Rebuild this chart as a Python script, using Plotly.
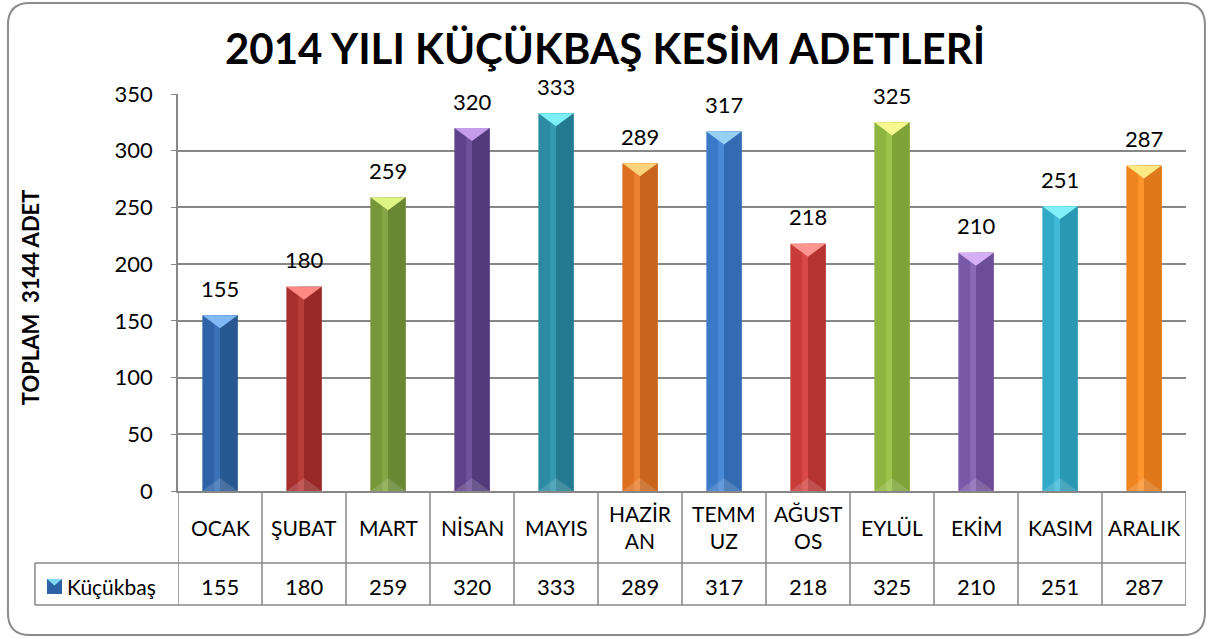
import plotly.graph_objects as go

# ---- data ----
months = ["OCAK", "ŞUBAT", "MART", "NİSAN", "MAYIS", "HAZİRAN",
          "TEMMUZ", "AĞUSTOS", "EYLÜL", "EKİM", "KASIM", "ARALIK"]
header_labels = ["OCAK", "ŞUBAT", "MART", "NİSAN", "MAYIS", "HAZİR<br>AN",
                 "TEMM<br>UZ", "AĞUST<br>OS", "EYLÜL", "EKİM", "KASIM", "ARALIK"]
values = [155, 180, 259, 320, 333, 289, 317, 218, 325, 210, 251, 287]
series_name = "Küçükbaş"
title_text = "2014 YILI KÜÇÜKBAŞ KESİM ADETLERİ"
yaxis_title = "TOPLAM  3144 ADET"
y_ticks = [0, 50, 100, 150, 200, 250, 300, 350]

# ---- styles ----
bar_colors = ["#2E62A6", "#A8302F", "#76963A", "#5E4289", "#2A8BA3", "#DC7020",
              "#3A78C8", "#C93B39", "#8DB43E", "#7A58A8", "#31AAC8", "#F0851F"]
dark_colors = ["#285892", "#982927", "#6A8833", "#533A7A", "#247B91", "#C8641B",
               "#336BB2", "#B53331", "#7FA337", "#6C4D96", "#2A98B3", "#DE781A"]
light_colors = ["#3A72B8", "#B83C3A", "#86A645", "#6E519A", "#3599B0", "#EA8030",
                "#4A88D8", "#D84A48", "#9CC44A", "#8A68B8", "#40BAD6", "#FF942C"]
cap_colors = ["#80B9F5", "#FF8A85", "#DDF584", "#C49CE9", "#7CEEF8", "#FFD37C",
              "#95D2F6", "#FF9590", "#F8F890", "#D7AFF6", "#82F0F8", "#FFE982"]

FONT = "Lato"
BAR_W = 0.42
CAP = 11.5
GRID = "#878787"

x = list(range(len(months)))
fig = go.Figure()

# base bar
fig.add_trace(go.Bar(x=x, y=values, width=BAR_W, offset=-BAR_W / 2,
                     marker=dict(color=bar_colors, line=dict(width=0)),
                     name=series_name, showlegend=False, hoverinfo="skip"))
# right half, darker
fig.add_trace(go.Bar(x=x, y=values, width=BAR_W / 2, offset=0,
                     marker=dict(color=dark_colors, line=dict(width=0)),
                     showlegend=False, hoverinfo="skip"))
# light strip left of centre
fig.add_trace(go.Bar(x=x, y=values, width=0.07, offset=-0.07,
                     marker=dict(color=light_colors, line=dict(width=0)),
                     showlegend=False, hoverinfo="skip"))

# caps (top triangles) and faint base triangles
for i, v in enumerate(values):
    fig.add_trace(go.Scatter(
        x=[i - BAR_W / 2, i + BAR_W / 2, i, i - BAR_W / 2],
        y=[v, v, v - CAP, v], mode="lines", fill="toself",
        fillcolor=cap_colors[i], line=dict(width=0),
        showlegend=False, hoverinfo="skip"))
    fig.add_trace(go.Scatter(
        x=[i - BAR_W / 2, i + BAR_W / 2, i, i - BAR_W / 2],
        y=[0, 0, CAP, 0], mode="lines", fill="toself",
        fillcolor="rgba(255,255,255,0.15)", line=dict(width=0),
        showlegend=False, hoverinfo="skip"))

annotations = []
# data labels
for i, v in enumerate(values):
    annotations.append(dict(x=i, y=v, xref="x", yref="y", text=str(v),
                            showarrow=False, yshift=27,
                            font=dict(family=FONT, size=22, color="black")))
# table header labels
for i, lab in enumerate(header_labels):
    annotations.append(dict(x=i, y=-0.0907, xref="x", yref="paper", text=lab,
                            showarrow=False, yanchor="middle",
                            font=dict(family=FONT, size=21, color="black")))
# table values
for i, v in enumerate(values):
    annotations.append(dict(x=i, y=-0.2393, xref="x", yref="paper", text=str(v),
                            showarrow=False, yanchor="middle",
                            font=dict(family=FONT, size=22, color="black")))
# series name in table
annotations.append(dict(x=-0.1121, y=-0.2393, xref="paper", yref="paper",
                        text=series_name, showarrow=False, xanchor="left",
                        yanchor="middle",
                        font=dict(family=FONT, size=21, color="black")))
# title
annotations.append(dict(x=0.4236, y=1.1158, xref="paper", yref="paper",
                        text="<b>" + title_text + "</b>", showarrow=False,
                        xanchor="center", yanchor="middle",
                        font=dict(family=FONT, size=42, color="black")))
# y axis title
annotations.append(dict(x=-0.1468, y=0.488, xref="paper", yref="paper",
                        text="<b>" + yaxis_title + "</b>", showarrow=False,
                        textangle=-90, xanchor="center", yanchor="middle",
                        font=dict(family=FONT, size=22, color="black")))

shapes = []
line_style = dict(color=GRID, width=1.5)
# table vertical lines
for k in range(len(months) + 1):
    shapes.append(dict(type="line", xref="x", yref="paper",
                       x0=k - 0.5, x1=k - 0.5, y0=-0.2872, y1=0, line=line_style))
# table horizontal lines
for yy in (-0.1814, -0.2872):
    shapes.append(dict(type="line", xref="paper", yref="paper",
                       x0=-0.1419, x1=1.0, y0=yy, y1=yy, line=line_style))
shapes.append(dict(type="line", xref="paper", yref="paper",
                   x0=-0.1419, x1=-0.1419, y0=-0.2872, y1=-0.1814, line=line_style))
# legend key
shapes.append(dict(type="rect", xref="paper", yref="paper",
                   x0=-0.1300, x1=-0.1151, y0=-0.2594, y1=-0.2217,
                   fillcolor="#2E62A6", line=dict(width=0)))
shapes.append(dict(type="path", xref="paper", yref="paper",
                   path="M -0.1300 -0.2217 L -0.1151 -0.2217 L -0.12255 -0.2380 Z",
                   fillcolor="#80D8F5", line=dict(width=0)))
# outer rounded border
x0, x1, y0, y1 = -0.1687, 1.0188, -0.3627, 1.2292
rx, ry = 0.0218, 0.0554
path = (f"M {x0+rx} {y1} L {x1-rx} {y1} Q {x1} {y1} {x1} {y1-ry} "
        f"L {x1} {y0+ry} Q {x1} {y0} {x1-rx} {y0} "
        f"L {x0+rx} {y0} Q {x0} {y0} {x0} {y0+ry} "
        f"L {x0} {y1-ry} Q {x0} {y1} {x0+rx} {y1} Z")
shapes.append(dict(type="path", xref="paper", yref="paper", path=path,
                   line=dict(color="#8C8C8C", width=2), layer="below"))

fig.update_layout(
    width=1210, height=639,
    margin=dict(l=178, r=24, t=94, b=148),
    paper_bgcolor="white", plot_bgcolor="white",
    barmode="overlay", showlegend=False,
    annotations=annotations, shapes=shapes,
    xaxis=dict(range=[-0.5, len(months) - 0.5], showticklabels=False,
               showgrid=False, zeroline=False, showline=True,
               linecolor=GRID, linewidth=1.5, fixedrange=True),
    yaxis=dict(range=[0, 350], tickvals=y_ticks, showgrid=True,
               gridcolor=GRID, gridwidth=1.5, zeroline=False,
               showline=True, linecolor=GRID, linewidth=1.5,
               ticks="outside", ticklen=5, tickcolor=GRID,
               ticklabelstandoff=14,
               tickfont=dict(family=FONT, size=22, color="black")),
)

fig.write_html("out.html",
               config={"displayModeBar": False},
               post_script="document.body.style.margin='0';"
                           "document.body.style.overflow='hidden';")
